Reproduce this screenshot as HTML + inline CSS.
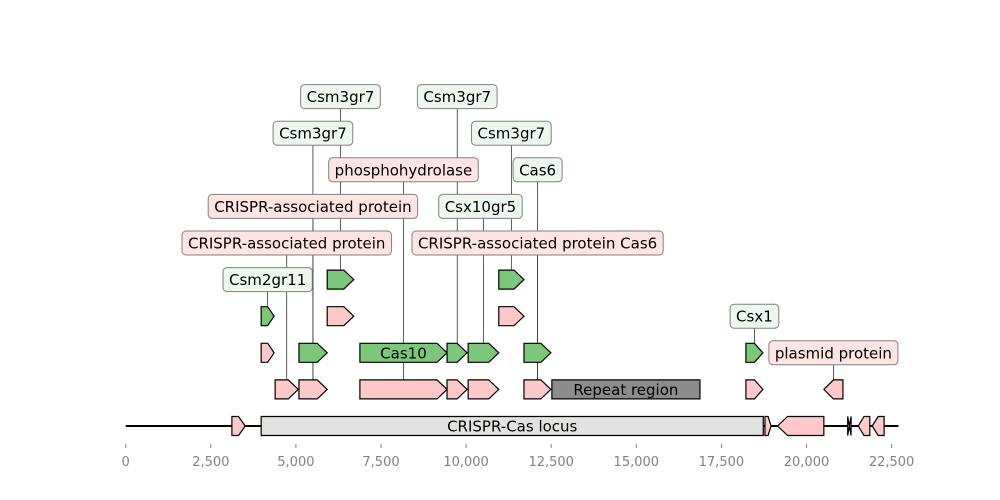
<!DOCTYPE html>
<html><head><meta charset="utf-8"><style>
html,body{margin:0;padding:0;background:#fff;}
svg{display:block;font-family:"DejaVu Sans","Liberation Sans",sans-serif;}
</style></head><body>
<svg id="chart" width="1000" height="500" viewBox="0 0 1000 500"></svg>
<script>
// ---- data (bp coordinates) ----
const seqStart = 0;
const seqEnd = 22700;
const tickValues = [0, 2500, 5000, 7500, 10000, 12500, 15000, 17500, 20000, 22500];
const tickLabels = ["0", "2,500", "5,000", "7,500", "10,000", "12,500", "15,000", "17,500", "20,000", "22,500"];
const featStart  = [3120, 3980, 18780, 19150, 21210, 21520, 21930,
                    4390, 5090, 6880, 9440, 10060, 11700, 12520, 18220, 20510,
                    3980, 5090, 6880, 9440, 10060, 11700, 18220,
                    3980, 5920, 10960,
                    5920, 10960];
const featEnd    = [3510, 18730, 18960, 20510, 21310, 21860, 22280,
                    5070, 5920, 9440, 10030, 10960, 12490, 16870, 18720, 21070,
                    4360, 5920, 9440, 10030, 10960, 12490, 18720,
                    4360, 6700, 11700,
                    6700, 11700];
const featStrand = [1, 0, 1, -1, 0, -1, -1,
                    1, 1, 1, 1, 1, 1, 0, 1, -1,
                    1, 1, 1, 1, 1, 1, 1,
                    1, 1, 1,
                    1, 1];
const featLevel  = [0, 0, 0, 0, 0, 0, 0,
                    1, 1, 1, 1, 1, 1, 1, 1, 1,
                    2, 2, 2, 2, 2, 2, 2,
                    3, 3, 3,
                    4, 4];
const featKind   = ["pink", "locus", "pink", "pink", "pink", "pink", "pink",
                    "pink", "pink", "pink", "pink", "pink", "pink", "repeat", "pink", "pink",
                    "pink", "green", "green", "green", "green", "green", "green",
                    "green", "pink", "pink",
                    "green", "green"];
const featText   = ["", "CRISPR-Cas locus", "", "", "", "", "",
                    "", "", "", "", "", "", "Repeat region", "", "",
                    "", "", "Cas10", "", "", "", "",
                    "", "", "",
                    "", ""];
const annText   = ["Csm2gr11", "CRISPR-associated protein", "CRISPR-associated protein", "Csm3gr7", "Csm3gr7",
                   "phosphohydrolase", "Csm3gr7", "Csx10gr5", "Csm3gr7", "Cas6",
                   "CRISPR-associated protein Cas6", "Csx1", "plasmid protein"];
const annAnchor = [4170, 4730, 5500, 5500, 6310, 8160, 9740, 10510, 11330, 12100, 12100, 18470, 20790];
const annTarget = [3, 1, 1, 1, 4, 1, 2, 2, 4, 1, 1, 2, 1];
const annLevel  = [4, 5, 6, 8, 9, 7, 9, 6, 8, 7, 5, 3, 2];
const annKind   = ["green", "pink", "pink", "green", "green", "pink", "green", "green", "green", "green", "pink", "green", "pink"];
const annShift  = [0, 0, 0, 0, 0, 0, 0, -3, 0, 0, 0, 0, 0];

// ---- scales ----
const x0 = 125.7, pxPerBp = 0.03404;
const X = bp => x0 + (bp - seqStart) * pxPerBp;
const Y = lvl => 426 - lvl * 36.6;
const FH = 19;
const NS = "http://www.w3.org/2000/svg";
const svg = document.getElementById('chart');
function mk(tag, attrs, parent) {
  const e = document.createElementNS(NS, tag);
  for (const k in attrs) e.setAttribute(k, attrs[k]);
  (parent || svg).appendChild(e);
  return e;
}
const fills = {pink: "#ffc9c9", green: "#7bc87b", locus: "#e2e2de", repeat: "#8c8c8c"};
const labFills = {pink: "#ffe4e4", green: "#eef7ee"};

const bb = mk('line', {x1: X(seqStart), x2: X(seqEnd), y1: Y(0), y2: Y(0), stroke: "#000", "stroke-width": 2});



const lineG = mk('g', {});
annText.forEach((t, i) => {
  const x = X(annAnchor[i]);
  const l = mk('line', {x1: x, x2: x, y1: Y(annLevel[i]), y2: Y(annTarget[i]) - FH / 2, stroke: "#333", "stroke-width": 0.8}, lineG);
  
  
});

featStart.forEach((s, i) => {
  const a = X(s), b = X(featEnd[i]), yc = Y(featLevel[i]);
  const t = yc - FH / 2, bt = yc + FH / 2, w = b - a;
  const h = Math.min(10, w / 2);
  let pts;
  if (featStrand[i] === 1) pts = [[a, t], [b - h, t], [b, yc], [b - h, bt], [a, bt]];
  else if (featStrand[i] === -1) pts = [[a, yc], [a + h, t], [b, t], [b, bt], [a + h, bt]];
  else pts = [[a, t], [b, t], [b, bt], [a, bt]];
  if (featKind[i] === "pink" && featStrand[i] === 0) {
    pts = [[a, t], [(a + b) / 2, yc], [b, t], [b, bt], [(a + b) / 2, yc], [a, bt]];
  }
  const p = mk('polygon', {points: pts.map(q => q.join(',')).join(' '), fill: fills[featKind[i]], stroke: "#000", "stroke-width": 1.2});
  
  
  if (featText[i]) {
    const tx = mk('text', {x: (a + b) / 2, y: yc + 5.5, "text-anchor": "middle", "font-size": 15, fill: "#000"});
    tx.textContent = featText[i];
    
    
  }
});

annText.forEach((t, i) => {
  const cx = X(annAnchor[i]) + annShift[i], yc = Y(annLevel[i]);
  const g = mk('g', {});
  
  
  const r = mk('rect', {y: yc - 12, height: 24, rx: 4, fill: labFills[annKind[i]], stroke: "#808080", "stroke-width": 1}, g);
  const tx = mk('text', {x: cx, y: yc + 5.5, "text-anchor": "middle", "font-size": 15, fill: "#000"}, g);
  tx.textContent = t;
  const w = tx.getComputedTextLength() + 12;
  r.setAttribute('x', cx - w / 2);
  r.setAttribute('width', w);
});

tickValues.forEach((v, i) => {
  const x = X(v);
  const tk = mk('line', {x1: x, x2: x, y1: 444, y2: 448, stroke: "#808080", "stroke-width": 1});
  
  
  const tl = mk('text', {x: x, y: 466, "text-anchor": "middle", "font-size": 13, fill: "#808080"});
  tl.textContent = tickLabels[i];
  
  
});
</script>
</body></html>
